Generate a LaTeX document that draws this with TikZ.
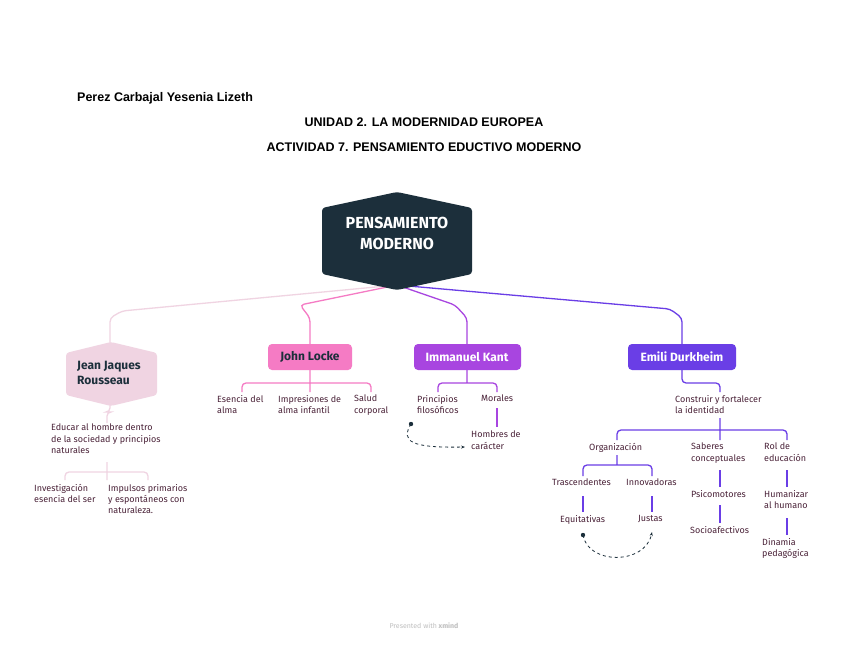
\documentclass[tikz,border=0pt]{standalone}
\usepackage{fontspec}
\setmainfont{Fira Sans}
\newfontfamily\arialf{Liberation Sans}
\usetikzlibrary{arrows.meta}
\definecolor{dk}{HTML}{1C2F3B}
\definecolor{rs}{HTML}{F0D4E2}
\definecolor{lk}{HTML}{F57BC4}
\definecolor{kt}{HTML}{A845E0}
\definecolor{dm}{HTML}{6A3EE6}
\definecolor{tx}{HTML}{4A2238}
\begin{document}
\begin{tikzpicture}[x=1pt,y=-1pt,
  lbl/.style={font=\fontsize{9}{11.3}\selectfont,text=tx,align=left,anchor=north west,inner sep=0},
  hd/.style={font=\arialf\bfseries\fontsize{12.5}{14}\selectfont,text=black},
  tp/.style={font=\bfseries\fontsize{12}{15}\selectfont,inner sep=0},
  br/.style={line width=1.3pt,rounded corners=4pt},
  dsh/.style={dk,thick,dashed,-{Stealth[length=4pt]}}]
\useasboundingbox (0,0) rectangle (848,655);
\fill[white] (0,0) rectangle (848,655);
\node[hd,anchor=west,inner sep=0] (au) at (77,98) {Perez Carbajal Yesenia Lizeth};
\node[hd] (t1) at (424,122) {UNIDAD 2. LA MODERNIDAD EUROPEA};
\node[hd] (t2) at (424,147) {ACTIVIDAD 7. PENSAMIENTO EDUCTIVO MODERNO};
% branches
\draw[rs,br] (397,285) -- (122,311) -- (110,318) -- (110,345);
\draw[lk,br] (397,285) -- (300,305) -- (310,318) -- (310,345);
\draw[kt,br] (397,285) -- (455,305) -- (467,318) -- (467,345);
\draw[dm,br] (397,285) -- (670,309) -- (682,318) -- (682,345);
% central
\fill[dk,rounded corners=3pt] (322,208) -- (397,192) -- (472,208) -- (472,274) -- (397,290) -- (322,274) -- cycle;
\node[tp,text=white,font=\bfseries\fontsize{16}{21}\selectfont,align=center] (c) at (397,233) {PENSAMIENTO\\MODERNO};
% children
\fill[rs,rounded corners=3pt] (66,353) -- (111,342) -- (157,353) -- (157,395) -- (111,406) -- (66,395) -- cycle;
\node[tp,text=dk,align=left] (r) at (109,373) {Jean Jaques\\Rousseau};
\fill[lk,rounded corners=4pt] (268,344) rectangle (352,370);
\node[tp,text=dk] (l) at (310,357) {John Locke};
\fill[kt,rounded corners=4pt] (414,344) rectangle (521,370);
\node[tp,text=white] (k) at (467,357) {Immanuel Kant};
\fill[dm,rounded corners=4pt] (628,344) rectangle (736,370);
\node[tp,text=white] (d) at (682,357) {Emili Durkheim};
% Locke
\draw[lk,br] (242,392) -- (242,383) -- (371,383) -- (371,392) (310,370) -- (310,392);
\node[lbl] (l1) at (217,395) {Esencia del\\alma};
\node[lbl] (l2) at (278,395) {Impresiones de\\alma infantil};
\node[lbl] (l3) at (354,395) {Salud\\corporal};
% Rousseau
\draw[rs,br] (110,405) -- (110,412) -- (107,412) -- (107,423);
\node[lbl] (r1) at (51,424) {Educar al hombre dentro\\de la sociedad y principios\\naturales};
\draw[rs,br] (107,462) -- (107,480) (65,480) -- (65,472) -- (148,472) -- (148,480);
\node[lbl] (r2) at (34,484) {Investigación\\esencia del ser};
\node[lbl] (r3) at (108,484) {Impulsos primarios\\y espontáneos con\\naturaleza.};
% Kant
\draw[kt,br] (438,392) -- (438,383) -- (497,383) -- (497,392) (467,370) -- (467,383);
\node[lbl] (k1) at (417,395) {Principios\\filosóficos};
\node[lbl] (k2) at (481,395) {Morales};
\draw[kt,line width=1.3pt] (497,408) -- (497,427);
\node[lbl] (k3) at (471,431) {Hombres de\\carácter};
\fill[dk] (411,424) circle (2.2pt);
\draw[dsh] (411,424) .. controls (400,442) and (412,448) .. (465,447);
% Durkheim
\draw[dm,br] (682,370) -- (682,383) -- (720,383) -- (720,392);
\node[lbl] (d1) at (675,395) {Construir y fortalecer\\la identidad};
\draw[dm,br] (720,418) -- (720,440) (617,440) -- (617,430) -- (787,430) -- (787,440);
\node[lbl] (o) at (589,443) {Organización};
\node[lbl] (s) at (691,443) {Saberes\\conceptuales};
\node[lbl] (ro) at (764,443) {Rol de\\educación};
\draw[dm,br] (617,455) -- (617,465) (583,476) -- (583,465) -- (652,465) -- (652,476);
\node[lbl] (o1) at (552,479) {Trascendentes};
\node[lbl] (o2) at (626,479) {Innovadoras};
\draw[dm,line width=1.3pt] (583,496) -- (583,512) (652,496) -- (652,512);
\node[lbl] (o3) at (560,515) {Equitativas};
\node[lbl] (o4) at (638,515) {Justas};
\fill[dk] (583,535) circle (2.2pt);
\draw[dsh] (583,535) .. controls (588,565) and (645,565) .. (652,532);
\draw[dm,line width=1.3pt] (720,470) -- (720,487) (720,505) -- (720,523);
\node[lbl] (s1) at (691,490) {Psicomotores};
\node[lbl] (s2) at (690,526) {Socioafectivos};
\draw[dm,line width=1.3pt] (787,470) -- (787,487) (787,518) -- (787,535);
\node[lbl] (h1) at (764,490) {Humanizar\\al humano};
\node[lbl] (h2) at (762,538) {Dinamia\\pedagógica};
\node[font=\fontsize{7}{8}\selectfont,text=black!25] (wm) at (424,626) {Presented with \textbf{xmind}};
\end{tikzpicture}
\end{document}
